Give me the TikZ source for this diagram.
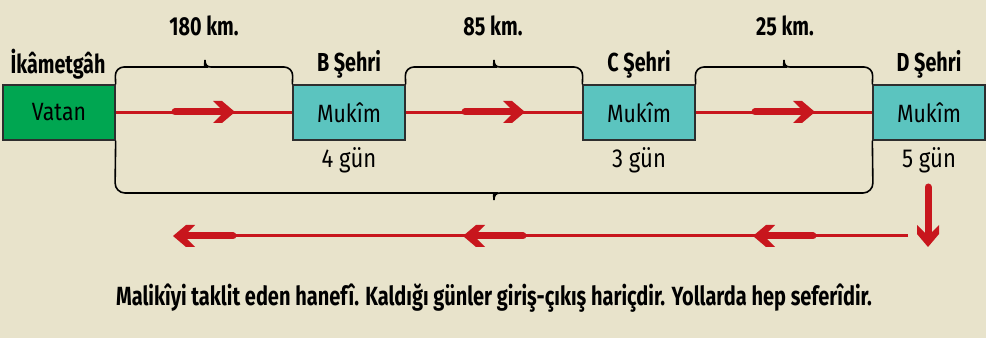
\documentclass[tikz,border=0pt]{standalone}
\usepackage{fontspec}
\setmainfont{Fira Sans}[FakeStretch=0.85, BoldFont={Fira Sans Bold}, BoldFeatures={FakeStretch=0.76}]
\definecolor{bgc}{HTML}{E8E3CB}
\definecolor{vgreen}{HTML}{00A651}
\definecolor{teal2}{HTML}{5BC4BF}
\definecolor{redc}{HTML}{C8161D}
\definecolor{edge}{HTML}{2E2E2E}
\tikzset{
  box/.style={draw=edge, line width=1.3pt, minimum width=112pt, minimum height=55pt, inner sep=0pt, font=\fontsize{25}{28}\selectfont},
  toplbl/.style={font=\bfseries\fontsize{26}{29}\selectfont, inner sep=0pt},
  daylbl/.style={font=\fontsize{26}{29}\selectfont, inner sep=0pt},
  brace/.style={draw=black, line width=1.6pt},
  redline/.style={draw=redc, line width=3pt},
  pics/chev/.style={code={
    \draw[redc, line width=7pt, line cap=round] (-60,0) -- (-8,0);
    \fill[redc] (0,0) -- (-13,-11) -- (-22,-11) -- (-11,0) -- (-22,11) -- (-13,11) -- cycle;
  }}
}
\begin{document}
\begin{tikzpicture}[x=1pt, y=-1pt]
\useasboundingbox (0,0) rectangle (989,342);
\fill[bgc] (0,0) rectangle (986,338);
% boxes
\node[box, fill=vgreen] (vatan) at (59,112.5) {Vatan};
\node[box, fill=teal2] (b) at (349,112.5) {Mukîm};
\node[box, fill=teal2] (c) at (639,112.5) {Mukîm};
\node[box, fill=teal2] (d) at (929,112.5) {Mukîm};
% main red line
\draw[redline] (vatan.east) -- (b.west);
\draw[redline] (b.east) -- (c.west);
\draw[redline] (c.east) -- (d.west);
\pic at (235,112) {chev};
\pic at (525,112) {chev};
\pic at (815,112) {chev};
% top braces
\draw[brace] (vatan.north east) [rounded corners=9pt] -- (115,67) -- (199,67) [sharp corners] .. controls (203,67) and (205,65) .. (205,60) .. controls (205,65) and (207,67) .. (211,67) [rounded corners=9pt] -- (293,67) -- (b.north west);
\draw[brace] (b.north east) [rounded corners=9pt] -- (405,67) -- (488,67) [sharp corners] .. controls (492,67) and (494,65) .. (494,60) .. controls (494,65) and (496,67) .. (500,67) [rounded corners=9pt] -- (583,67) -- (c.north west);
\draw[brace] (c.north east) [rounded corners=9pt] -- (695,67) -- (778,67) [sharp corners] .. controls (782,67) and (784,65) .. (784,60) .. controls (784,65) and (786,67) .. (790,67) [rounded corners=9pt] -- (873,67) -- (d.north west);
% big bottom brace
\draw[brace] (vatan.south east) [rounded corners=10pt] -- (115,193) -- (488,193) [sharp corners] .. controls (492,193) and (494,195) .. (494,200) .. controls (494,195) and (496,193) .. (500,193) [rounded corners=10pt] -- (873,193) -- (d.south west);
% labels
\node[toplbl] (l1) at (204,26) {180 km.};
\node[toplbl] (l2) at (493,26) {85 km.};
\node[toplbl] (l3) at (785,26) {25 km.};
\node[toplbl] (t0) at (58,64) {İkâmetgâh};
\node[toplbl] (tb) at (349,64) {B Şehri};
\node[toplbl] (tc) at (639,64) {C Şehri};
\node[toplbl] (td) at (929,64) {D Şehri};
\node[daylbl] (g4) at (349,160) {4 gün};
\node[daylbl] (g3) at (639,160) {3 gün};
\node[daylbl] (g5) at (929,160) {5 gün};
% down arrow
\coordinate (dtop) at (928,183);
\pic[rotate=-90] at (928,247) {chev};
% return line
\coordinate (rs) at (908,236);
\coordinate (re) at (175,236);
\draw[redline] (rs) -- (re);
\pic[rotate=180] at (173,236) {chev};
\pic[rotate=180] at (463,236) {chev};
\pic[rotate=180] at (753,236) {chev};
% note
\node[font=\bfseries\fontsize{26.3}{29}\selectfont, inner sep=0pt] (note) at (494,298) {Malikîyi taklit eden hanefî. Kaldığı günler giriş-çıkış hariçdir. Yollarda hep seferîdir.};
\end{tikzpicture}
\end{document}
